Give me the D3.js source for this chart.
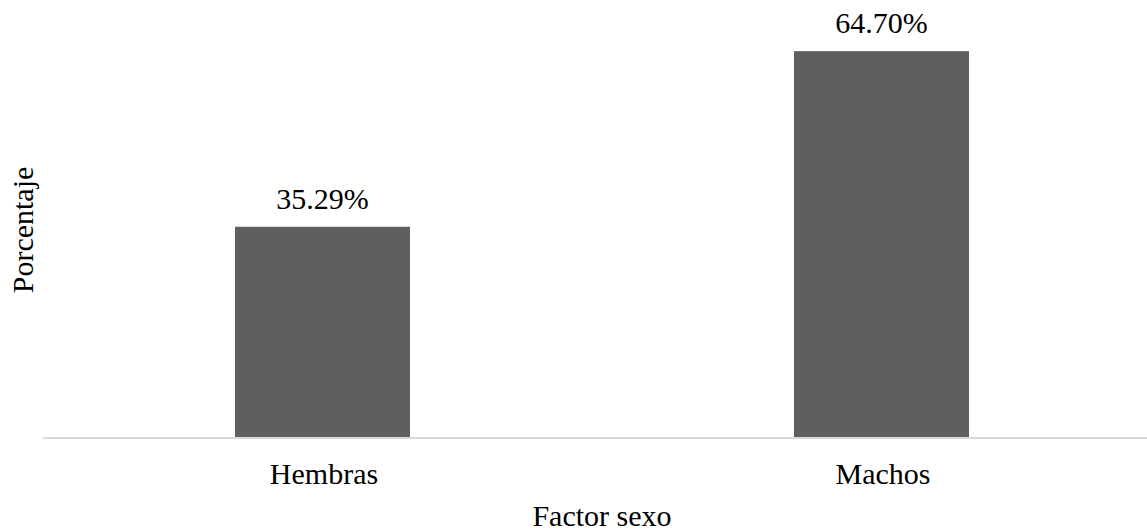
<!DOCTYPE html>
<html>
<head>
<meta charset="utf-8">
<script src="https://cdn.jsdelivr.net/npm/d3@7"></script>
<style>
  html, body { margin: 0; padding: 0; background: #ffffff; }
  svg { display: block; }
</style>
</head>
<body>
<svg id="chart" width="1147" height="532"></svg>
<script>
// Distribución por sexo (porcentaje)
const categories = ["Hembras", "Machos"];
const values = [35.29, 64.70];
const xTitle = "Factor sexo";
const yTitle = "Porcentaje";

const W = 1147, H = 532;
const svg = d3.select("#chart");
const fontSize = 30;
const fontFamily = "'Liberation Serif', Tinos, 'Times New Roman', 'DejaVu Serif', serif";

const x = d3.scaleBand()
  .domain(categories)
  .range([43, 1161])
  .paddingInner(0.687)
  .paddingOuter(0.3435);

const y = d3.scaleLinear()
  .domain([0, 70])
  .range([437.5, 19.5]);

// bars
svg.selectAll("rect.bar")
  .data(values)
  .join("rect")
  .attr("class", "bar")
  .attr("x", (d, i) => x(categories[i]))
  .attr("y", d => y(d))
  .attr("width", x.bandwidth())
  .attr("height", d => y(0) - y(d))
  .attr("fill", "#5f5f5f");

// category axis line
svg.append("line")
  .attr("x1", x.range()[0])
  .attr("x2", x.range()[1])
  .attr("y1", y(0) + 0.5)
  .attr("y2", y(0) + 0.5)
  .attr("stroke", "#d9d9d9")
  .attr("stroke-width", 2);

const txt = svg.append("g")
  .style("font-family", fontFamily)
  .attr("font-size", fontSize)
  .attr("fill", "#000000");

// value labels
txt.selectAll("text.val")
  .data(values)
  .join("text")
  .attr("class", "val")
  .attr("x", (d, i) => x(categories[i]) + x.bandwidth() / 2)
  .attr("y", d => y(d) - 18)
  .attr("text-anchor", "middle")
  .text(d => d.toFixed(2) + "%");

// category labels
txt.selectAll("text.cat")
  .data(categories)
  .join("text")
  .attr("class", "cat")
  .attr("x", d => x(d) + x.bandwidth() / 2 + 1.5)
  .attr("y", 484)
  .attr("text-anchor", "middle")
  .text(d => d);

// axis titles
txt.append("text")
  .attr("x", 602)
  .attr("y", 526)
  .attr("text-anchor", "middle")
  .text(xTitle);

txt.append("text")
  .attr("transform", "translate(33,230) rotate(-90)")
  .attr("text-anchor", "middle")
  .text(yTitle);
</script>
</body>
</html>
